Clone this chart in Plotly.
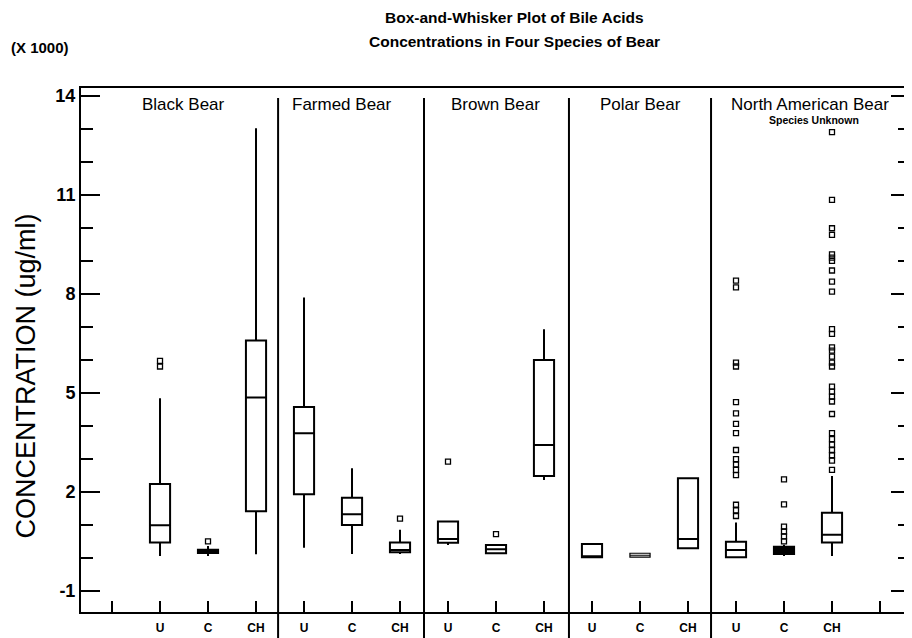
import plotly.graph_objects as go

# ---------------- data ----------------
species = ["Black Bear", "Farmed Bear", "Brown Bear", "Polar Bear", "North American Bear"]
acids = ["U", "C", "CH"]
tick_labels = [a for s in species for a in acids]
positions = list(range(len(tick_labels)))

lowerfence = [0.06, 0.06, 0.11,  0.31, 0.12, 0.12,  0.39, 0.14, 2.36,  0.02, 0.02, 0.29,  0.00, 0.06, 0.06]
q1         = [0.47, 0.15, 1.41,  1.93, 1.00, 0.17,  0.46, 0.14, 2.48,  0.02, 0.02, 0.29,  0.02, 0.12, 0.47]
median     = [0.99, 0.20, 4.86,  3.78, 1.32, 0.24,  0.57, 0.26, 3.42,  0.05, 0.08, 0.57,  0.24, 0.22, 0.70]
q3         = [2.24, 0.25, 6.59,  4.57, 1.82, 0.47,  1.10, 0.39, 6.00,  0.42, 0.14, 2.41,  0.49, 0.34, 1.37]
upperfence = [4.84, 0.36, 13.02, 7.89, 2.72, 0.85,  1.10, 0.39, 6.93,  0.42, 0.14, 2.41,  1.07, 0.40, 2.48]

outliers = {
    0: [5.97, 5.80],
    1: [0.50],
    5: [1.19],
    6: [2.92],
    7: [0.72],
    12: [8.40, 8.20, 5.92, 5.80, 4.72, 4.38, 4.06, 3.78, 3.27, 2.99, 2.83, 2.67, 2.51, 1.61, 1.44, 1.27],
    13: [2.38, 1.62, 0.95, 0.80, 0.65, 0.50],
    14: [12.90, 10.85, 9.99, 9.79, 9.20, 9.10, 9.00, 8.71, 8.37, 8.07, 6.93, 6.79, 6.38, 6.28,
         6.10, 5.92, 5.80, 5.19, 5.04, 4.89, 4.74, 4.36, 3.78, 3.60, 3.43, 3.27, 3.11, 2.95, 2.67],
}

y_ticks = [-1, 2, 5, 8, 11, 14]
divider_x = [2.46, 5.5, 8.52, 11.48]
label_x = [0.48, 3.8, 6.98, 10.0, 13.55]

FONT = "Liberation Sans, Arial, sans-serif"

fig = go.Figure()

for i in positions:
    thin = i == 10
    dense = i == 13
    fig.add_trace(go.Box(
        x=[positions[i]], q1=[q1[i]], median=[median[i]], q3=[q3[i]],
        lowerfence=[lowerfence[i]], upperfence=[upperfence[i]],
        width=0.42, whiskerwidth=0, boxpoints=False,
        line=dict(color="black", width=1.2 if thin else 2),
        fillcolor="black" if dense else "white",
        showlegend=False, hoverinfo="skip",
    ))

for i, vals in outliers.items():
    fig.add_trace(go.Scatter(
        x=[positions[i]] * len(vals), y=vals, mode="markers",
        marker=dict(symbol="square-open", size=5, color="black", line=dict(width=1.3)),
        showlegend=False, hoverinfo="skip",
    ))

shapes = []
for dx in divider_x:
    shapes.append(dict(type="line", xref="x", yref="paper", x0=dx, x1=dx,
                       y0=-0.06, y1=0.981, line=dict(color="black", width=2)))

annotations = [
    dict(text="<b>Box-and-Whisker Plot of Bile Acids</b>", x=0.5235, y=1.1336, xref="paper", yref="paper",
         showarrow=False, xanchor="center", yanchor="middle", font=dict(family=FONT, size=15.5, color="black")),
    dict(text="<b>Concentrations in Four Species of Bear</b>", x=0.5235, y=1.0878, xref="paper", yref="paper",
         showarrow=False, xanchor="center", yanchor="middle", font=dict(family=FONT, size=15.5, color="black")),
    dict(text="<b>(X 1000)</b>", x=-0.0495, y=1.078, xref="paper", yref="paper",
         showarrow=False, xanchor="center", yanchor="middle", font=dict(family=FONT, size=15, color="black")),
    dict(text="CONCENTRATION (ug/ml)", x=-0.066, y=0.45, xref="paper", yref="paper", textangle=-90,
         showarrow=False, xanchor="center", yanchor="middle", font=dict(family=FONT, size=27, color="black")),
]
for sx, name in zip(label_x, species):
    annotations.append(dict(text=name, x=sx, y=13.73, xref="x", yref="y", showarrow=False,
                            xanchor="center", yanchor="middle", font=dict(family=FONT, size=17, color="black")))
annotations.append(dict(text="<b>Species Unknown</b>", x=13.62, y=13.28, xref="x", yref="y", showarrow=False,
                        xanchor="center", yanchor="middle", font=dict(family=FONT, size=10.5, color="black")))

# page body has an 8px margin, so the figure is sized/offset to land on the 912x638 window
fig.update_layout(
    width=904, height=630,
    margin=dict(l=73, r=2, t=80, b=26),
    paper_bgcolor="white", plot_bgcolor="white",
    shapes=shapes, annotations=annotations,
    xaxis=dict(range=[-1.646, 15.625], tickmode="array",
               tickvals=[-1] + positions + [len(positions)],
               ticktext=[""] + tick_labels + [""],
               ticks="inside", ticklen=11, tickwidth=2, tickcolor="black",
               showline=True, linecolor="black", linewidth=2, mirror=True,
               showgrid=False, zeroline=False, automargin=False, ticklabelstandoff=4,
               tickfont=dict(family=FONT, size=12, color="black", weight="bold")),
    yaxis=dict(range=[-1.64, 14.24], tickmode="array", tickvals=y_ticks,
               ticktext=[str(v) for v in y_ticks],
               ticks="inside", ticklen=19, tickwidth=2, tickcolor="black",
               minor=dict(dtick=1, tick0=-1, ticks="inside", ticklen=12, tickwidth=1.5, tickcolor="black"),
               showline=True, linecolor="black", linewidth=2, mirror="ticks",
               showgrid=False, zeroline=False, automargin=False, ticklabelstandoff=0,
               tickfont=dict(family=FONT, size=18, color="black", weight="bold")),
)

fig.write_html("out.html")
